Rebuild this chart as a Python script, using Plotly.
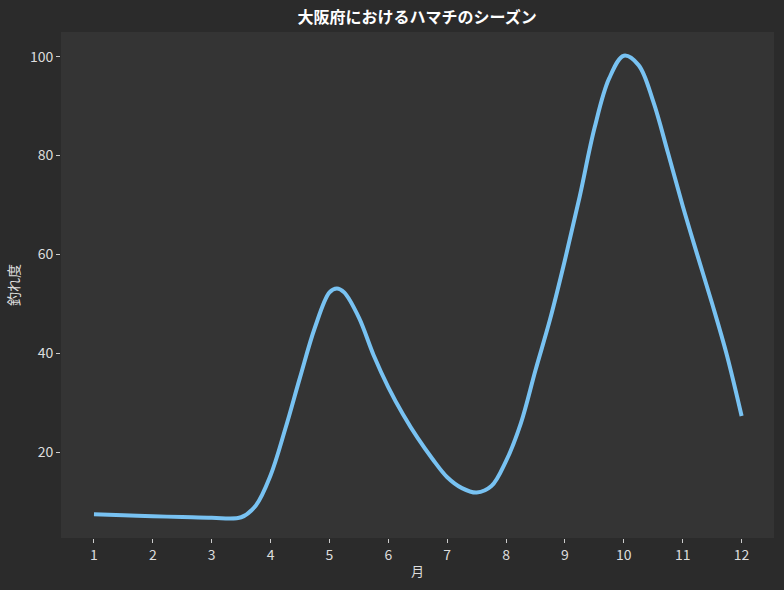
import plotly.graph_objects as go

## Data (month, catch index)
months = [1, 1.5, 2, 2.5, 3, 3.5, 3.75,
          4, 4.25, 4.5, 4.75, 5, 5.125, 5.25, 5.5, 5.75,
          6, 6.25, 6.5, 6.75, 7, 7.25, 7.5, 7.75,
          8, 8.25, 8.5, 8.75, 9, 9.25, 9.5, 9.75,
          10, 10.25, 10.5, 10.75, 11, 11.25, 11.5, 11.75, 12]
catch_index = [7.4, 7.2, 7.0, 6.85, 6.7, 6.8, 9.2,
               15.3, 24.7, 35.1, 45.1, 52.3, 53.1, 52.3, 47.2, 39.6,
               33.1, 27.6, 22.8, 18.6, 14.9, 12.7, 11.8, 13.1,
               18.2, 25.8, 36.6, 47.0, 58.9, 71.7, 85.5, 95.6,
               100.2, 98.3, 90.9, 80.5, 69.8, 59.8, 50.0, 39.6, 27.3]

x_ticks = list(range(1, 13))
y_ticks = [20, 40, 60, 80, 100]

## Style
paper_bg = "#2b2b2b"
plot_bg = "#343434"
line_color = "#78c2f2"
text_color = "#dddddd"
font_family = "Noto Sans CJK JP"

fig = go.Figure()
fig.add_trace(go.Scatter(
    x=months, y=catch_index,
    mode="lines",
    line=dict(color=line_color, width=4, shape="spline", smoothing=1.0),
    showlegend=False,
))

fig.update_layout(
    width=784, height=590,
    paper_bgcolor=paper_bg,
    plot_bgcolor=plot_bg,
    margin=dict(l=61, r=10, t=32, b=52),
    font=dict(family=font_family, color=text_color, size=14),
    title=dict(text="<b>大阪府におけるハマチのシーズン</b>",
               x=0.532, xanchor="center", y=0.97, yanchor="middle",
               font=dict(size=16, color="#ffffff", family=font_family)),
)

fig.update_xaxes(
    range=[0.44, 12.55],
    tickvals=x_ticks,
    ticks="outside", ticklen=4, tickcolor="#cccccc",
    showgrid=False, zeroline=False, showline=False,
    tickfont=dict(size=14, color=text_color),
    title=dict(text="月", font=dict(size=13, color=text_color), standoff=4),
)
fig.update_yaxes(
    range=[2.6, 105],
    tickvals=y_ticks,
    ticks="outside", ticklen=4, tickcolor="#cccccc",
    showgrid=False, zeroline=False, showline=False,
    tickfont=dict(size=14, color=text_color),
    title=dict(text="釣れ度", font=dict(size=14, color=text_color), standoff=6),
)

# drop the default page margin so the figure fills the window
fig.write_html("out.html", config={"displayModeBar": False},
               post_script="document.body.style.margin='0';")
